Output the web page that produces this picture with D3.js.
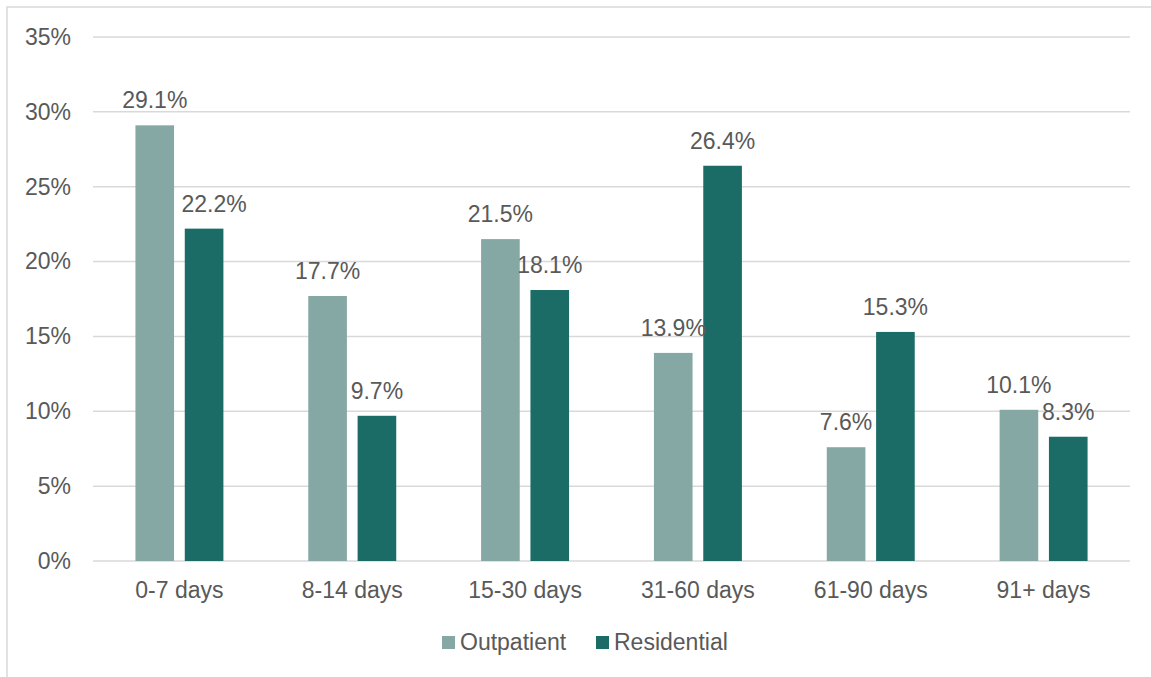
<!DOCTYPE html>
<html>
<head>
<meta charset="utf-8">
<script src="https://cdn.jsdelivr.net/npm/d3@7"></script>
<style>
  html, body { margin: 0; padding: 0; background: #fff; }
  svg { display: block; }
  text { font-family: "Liberation Sans", Arial, sans-serif; fill: #595959; }
</style>
</head>
<body>
<svg id="chart" width="1151" height="677"></svg>
<script>
// Length-of-stay buckets and the share of clients in each, by setting
const categories = ["0-7 days", "8-14 days", "15-30 days", "31-60 days", "61-90 days", "91+ days"];
const seriesNames = ["Outpatient", "Residential"];
const outpatient = [29.1, 17.7, 21.5, 13.9, 7.6, 10.1];
const residential = [22.2, 9.7, 18.1, 26.4, 15.3, 8.3];
const yTicks = [0, 5, 10, 15, 20, 25, 30, 35];

const colors = { Outpatient: "#85a8a4", Residential: "#1b6c66" };
const gridColor = "#d9d9d9";
const fontSize = 23;

const svg = d3.select("#chart");

// Outer frame of the chart area
svg.append("rect")
  .attr("x", 7).attr("y", 7)
  .attr("width", 1170).attr("height", 700)
  .attr("fill", "none")
  .attr("stroke", gridColor)
  .attr("stroke-width", 1.5);

const plot = { left: 93, right: 1130, top: 37, bottom: 561 };

const x0 = d3.scaleBand()
  .domain(categories)
  .range([plot.left, plot.right])
  .padding(0);

const groupWidth = x0.bandwidth() * 0.509;
const x1 = d3.scaleBand()
  .domain(seriesNames)
  .range([(x0.bandwidth() - groupWidth) / 2, (x0.bandwidth() + groupWidth) / 2])
  .paddingInner(0.217)
  .paddingOuter(0);

const y = d3.scaleLinear()
  .domain([0, 35])
  .range([plot.bottom, plot.top]);

// Horizontal gridlines (the 0% line doubles as the category axis)
svg.append("g")
  .selectAll("line")
  .data(yTicks)
  .join("line")
  .attr("x1", plot.left).attr("x2", plot.right)
  .attr("y1", d => y(d)).attr("y2", d => y(d))
  .attr("stroke", gridColor)
  .attr("stroke-width", 1.5);

// Value axis labels
const yAxis = d3.axisLeft(y)
  .tickValues(yTicks)
  .tickFormat(d => d + "%")
  .tickSize(0)
  .tickPadding(0);
const yG = svg.append("g")
  .attr("transform", `translate(71,0)`)
  .call(yAxis);
yG.select(".domain").remove();
yG.selectAll("text")
  .attr("font-size", fontSize)
  .attr("font-family", "Liberation Sans, Arial, sans-serif")
  .attr("fill", "#595959");

// Category axis labels
const xAxis = d3.axisBottom(x0).tickSize(0).tickPadding(0);
const xG = svg.append("g")
  .attr("transform", `translate(0,${plot.bottom})`)
  .call(xAxis);
xG.select(".domain").remove();
xG.selectAll("text")
  .attr("dy", null)
  .attr("y", 37)
  .attr("font-size", fontSize)
  .attr("font-family", "Liberation Sans, Arial, sans-serif")
  .attr("fill", "#595959");

const rows = categories.map((c, i) => ({
  category: c,
  values: [
    { series: "Outpatient", value: outpatient[i] },
    { series: "Residential", value: residential[i] }
  ]
}));

const groups = svg.append("g")
  .selectAll("g")
  .data(rows)
  .join("g")
  .attr("transform", d => `translate(${x0(d.category)},0)`);

groups.selectAll("rect")
  .data(d => d.values)
  .join("rect")
  .attr("x", d => x1(d.series))
  .attr("y", d => y(d.value))
  .attr("width", x1.bandwidth())
  .attr("height", d => y(0) - y(d.value))
  .attr("fill", d => colors[d.series]);

// Value labels above each bar; the first residential label sits a little
// to the right so it clears the taller neighbouring bar.
groups.selectAll("text.value")
  .data((d, i) => d.values.map(v => ({ ...v, nudge: (i === 0 && v.series === "Residential") ? 10 : 0 })))
  .join("text")
  .attr("class", "value")
  .attr("x", d => x1(d.series) + x1.bandwidth() / 2 + d.nudge)
  .attr("y", d => y(d.value) - 17)
  .attr("text-anchor", "middle")
  .attr("font-size", fontSize)
  .text(d => d.value.toFixed(1) + "%");

// Legend
const legendItems = [
  { name: "Outpatient", x: 442 },
  { name: "Residential", x: 596 }
];
const legend = svg.append("g");
legendItems.forEach(item => {
  legend.append("rect")
    .attr("x", item.x).attr("y", 636)
    .attr("width", 13).attr("height", 13)
    .attr("fill", colors[item.name]);
  legend.append("text")
    .attr("x", item.x + 18).attr("y", 650)
    .attr("font-size", fontSize)
    .text(item.name);
});
</script>
</body>
</html>
